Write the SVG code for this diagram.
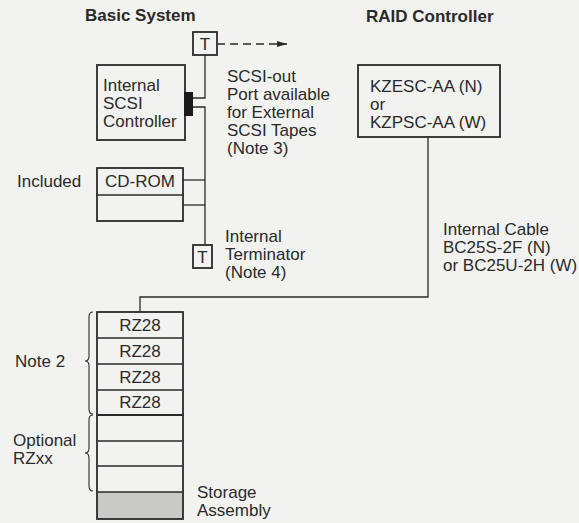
<svg xmlns="http://www.w3.org/2000/svg" width="579" height="523" viewBox="0 0 579 523">
<style>
text{font-family:"Liberation Sans",Arial,sans-serif;font-size:17px;fill:#2a2a2a}
.b{font-weight:bold}
.m{text-anchor:middle}
.box{fill:none;stroke:#2a2a2a;stroke-width:1.8}
.ln{fill:none;stroke:#2a2a2a;stroke-width:1.3}
.br{fill:none;stroke:#2a2a2a;stroke-width:1.1}
</style>
<defs>
<marker id="ah" markerWidth="10" markerHeight="8" refX="10" refY="4" orient="auto" markerUnits="userSpaceOnUse">
<path d="M0,1 L10,4 L0,7 Z" fill="#2a2a2a"/>
</marker>
</defs>
<rect width="579" height="523" fill="#f2f2f0"/>
<text class="b" x="85" y="21">Basic System</text>
<text class="b" x="366" y="22">RAID Controller</text>

<g id="connectors">
<path class="ln" d="M205,55 V98 H192"/>
<path class="ln" d="M192,107 H205 V245"/>
<path class="ln" d="M183,180 H205"/>
<path class="ln" d="M183,205 H205"/>
<path class="ln" d="M428,137 V297 H140 V312"/>
<path class="ln" d="M217,44 H287" stroke-dasharray="8,5" marker-end="url(#ah)"/>
</g>

<g id="t-top">
<rect class="box" x="193" y="32" width="24" height="23"/>
<text class="m" x="205" y="50">T</text>
</g>
<g id="scsi-out-label">
<text x="227" y="82">SCSI-out</text>
<text x="227" y="100">Port available</text>
<text x="227" y="118">for External</text>
<text x="227" y="136">SCSI Tapes</text>
<text x="227" y="154">(Note 3)</text>
</g>
<g id="scsi-controller">
<rect class="box" x="97" y="65" width="88" height="75"/>
<rect x="184" y="92" width="9" height="24" fill="#1a1a1a"/>
<text x="103" y="91">Internal</text>
<text x="103" y="109">SCSI</text>
<text x="103" y="127">Controller</text>
</g>
<g id="cdrom">
<text x="17" y="187">Included</text>
<rect class="box" x="97" y="168" width="86" height="53"/>
<line class="ln" x1="97" y1="195" x2="183" y2="195"/>
<text class="m" x="140" y="187">CD-ROM</text>
</g>
<g id="t-bottom">
<rect class="box" x="193" y="245" width="19" height="23"/>
<text class="m" x="202.5" y="263">T</text>
<text x="225" y="242">Internal</text>
<text x="225" y="260">Terminator</text>
<text x="225" y="278">(Note 4)</text>
</g>
<g id="raid">
<rect class="box" x="358" y="65" width="142" height="72"/>
<text x="370" y="92">KZESC-AA (N)</text>
<text x="370" y="110">or</text>
<text x="370" y="128">KZPSC-AA (W)</text>
</g>
<g id="cable-label">
<text x="443" y="235">Internal Cable</text>
<text x="443" y="253">BC25S-2F (N)</text>
<text x="443" y="271">or BC25U-2H (W)</text>
</g>
<g id="storage">
<rect x="97" y="492" width="86" height="27" fill="#c9c9c7"/>
<rect class="box" x="97" y="312" width="86" height="207"/>
<path class="ln" d="M97,338 H183 M97,364 H183 M97,390 H183 M97,441 H183 M97,466 H183 M97,492 H183"/>
<line x1="97" y1="415" x2="183" y2="415" stroke="#2a2a2a" stroke-width="2"/>
<text class="m" x="140" y="331">RZ28</text>
<text class="m" x="140" y="357">RZ28</text>
<text class="m" x="140" y="383">RZ28</text>
<text class="m" x="140" y="408">RZ28</text>
<text x="197" y="498">Storage</text>
<text x="197" y="516">Assembly</text>
</g>
<g id="note2">
<path class="br" d="M93,312 Q89,312 89,317 L89,356 Q89,361 85,361 Q89,361 89,366 L89,409 Q89,414 93,414"/>
<text x="15" y="367">Note 2</text>
</g>
<g id="optional">
<path class="br" d="M93,415 Q89,415 89,420 L89,448 Q89,453 85,453 Q89,453 89,458 L89,486 Q89,491 93,491"/>
<text x="13" y="446">Optional</text>
<text x="13" y="464">RZxx</text>
</g>
</svg>
